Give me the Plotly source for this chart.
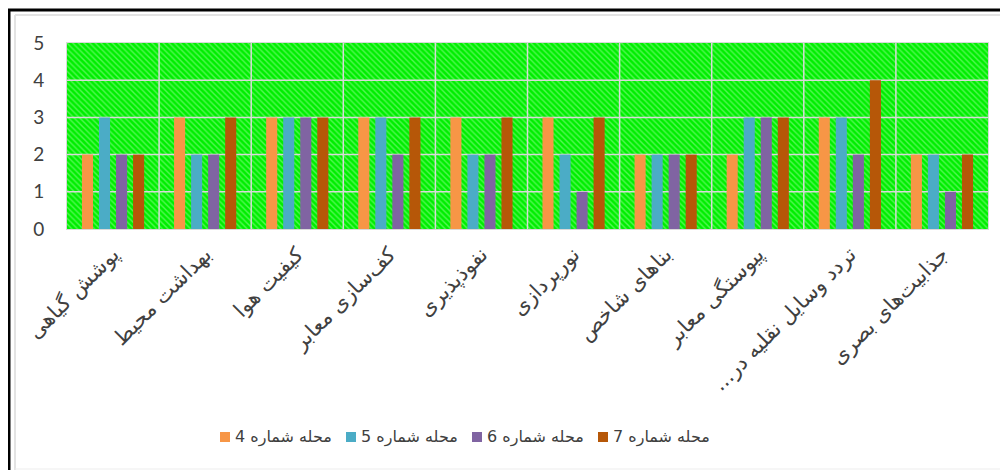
import plotly.graph_objects as go

categories = [
    "پوشش گیاهی",
    "بهداشت محیط",
    "کیفیت هوا",
    "کف‌سازی معابر",
    "نفوذپذیری",
    "نورپردازی",
    "بناهای شاخص",
    "پیوستگی معابر",
    "\u200fتردد وسایل نقلیه در...\u200f",
    "جذابیت‌های بصری",
]
series_names = ["محله شماره 4", "محله شماره 5", "محله شماره 6", "محله شماره 7"]
mahalle4 = [2, 3, 3, 3, 3, 3, 2, 2, 3, 2]
mahalle5 = [3, 2, 3, 3, 2, 2, 2, 3, 3, 2]
mahalle6 = [2, 2, 3, 2, 2, 1, 2, 3, 2, 1]
mahalle7 = [2, 3, 3, 3, 3, 3, 2, 3, 4, 2]
series_values = [mahalle4, mahalle5, mahalle6, mahalle7]
colors = ["#F79646", "#4BACC6", "#8064A2", "#B65708"]
y_ticks = [0, 1, 2, 3, 4, 5]

n = len(categories)
ymax = y_ticks[-1]
xlo, xhi = -0.5, n - 0.5

fig = go.Figure()
# hatched plot-area background (main subplot, drawn first)
fig.add_trace(go.Bar(x=[(xlo + xhi) / 2], y=[ymax], width=[xhi - xlo], xaxis="x", yaxis="y",
                     marker=dict(color="#00EE00", line=dict(width=0),
                                 pattern=dict(shape="\\", fgcolor="#A8FFA8", size=4, solidity=0.35)),
                     showlegend=False, hoverinfo="skip"))
# gridlines over the hatch (scatter draws above bars in a subplot)
gx, gy = [], []
for t in y_ticks[1:-1]:
    gx += [xlo, xhi, None]
    gy += [t, t, None]
for b in range(n - 1):
    gx += [b + 0.5, b + 0.5, None]
    gy += [0, ymax, None]
fig.add_trace(go.Scatter(x=gx, y=gy, mode="lines", xaxis="x", yaxis="y",
                         line=dict(color="#D9D9D9", width=1.5), showlegend=False, hoverinfo="skip"))
# data bars on overlaying category axis (drawn above)
for name, vals, col in zip(series_names, series_values, colors):
    fig.add_trace(go.Bar(x=categories, y=vals, name=name, marker_color=col, xaxis="x2", yaxis="y",
                         marker_line_width=0, showlegend=False))

# page is offset by 8px body margin; work in figure pixel coords
W, H = 1000, 462
L, R, T, B = 59, 20, 35, 241
pw, ph = W - L - R, H - T - B

def px(x):
    return (x - L) / pw

def py(y):
    return (H - B - y) / ph

shapes = [
    dict(type="line", xref="paper", yref="paper", x0=px(0), x1=px(1000), y0=py(2), y1=py(2),
         line=dict(color="#000000", width=3)),
    dict(type="line", xref="paper", yref="paper", x0=px(1), x1=px(1), y0=py(1), y1=py(462),
         line=dict(color="#000000", width=3)),
    dict(type="line", xref="paper", yref="paper", x0=px(7), x1=px(1000), y0=py(7), y1=py(7),
         line=dict(color="#E3E3E3", width=2)),
    dict(type="line", xref="paper", yref="paper", x0=px(7), x1=px(7), y0=py(7), y1=py(462),
         line=dict(color="#E3E3E3", width=2)),
    dict(type="line", xref="paper", yref="paper", x0=px(7), x1=px(1000), y0=py(461), y1=py(461),
         line=dict(color="#EDEDED", width=1)),
]

# custom legend (squares + labels)
annotations = []
leg_x0, leg_step, leg_y, sq = 212, 126, 429, 10
for i, (name, col) in enumerate(zip(series_names, colors)):
    x = leg_x0 + i * leg_step
    shapes.append(dict(type="rect", xref="paper", yref="paper",
                       x0=px(x), x1=px(x + sq), y0=py(leg_y + sq / 2), y1=py(leg_y - sq / 2),
                       fillcolor=col, line=dict(width=0)))
    annotations.append(dict(text=name, xref="paper", yref="paper", x=px(x + sq + 3), y=py(leg_y),
                            xanchor="left", yanchor="middle", showarrow=False,
                            font=dict(family="DejaVu Sans", size=16, color="#404040")))

fig.update_layout(
    width=W, height=H,
    margin=dict(l=L, r=R, t=T, b=B, autoexpand=False),
    paper_bgcolor="#FFFFFF",
    plot_bgcolor="#2CF02C",
    barmode="group",
    bargap=0.26,
    bargroupgap=0.35,
    shapes=shapes,
    annotations=annotations,
    showlegend=False,
    font=dict(family="DejaVu Sans", color="#404040"),
    xaxis=dict(range=[xlo, xhi], showgrid=False, showticklabels=False, ticks="", zeroline=False,
               showline=True, linecolor="#D9D9D9", mirror=True),
    xaxis2=dict(overlaying="x", side="bottom", type="category", range=[xlo, xhi],
                showgrid=False, ticks="", tickangle=-45,
                tickfont=dict(family="DejaVu Sans", size=21, color="#404040"),
                ticklabelstandoff=8),
    yaxis=dict(range=[0, ymax], tickvals=y_ticks, showgrid=False,
               showline=True, linecolor="#D9D9D9", mirror=True, zeroline=False, ticks="",
               tickfont=dict(family="Lato", size=19, color="#404040"),
               ticklabelstandoff=18),
)

fig.write_html("out.html")
